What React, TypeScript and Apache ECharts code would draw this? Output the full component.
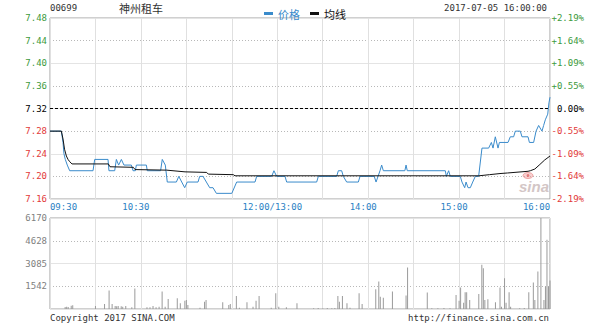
import React, { useEffect, useRef } from 'react';
import * as echarts from 'echarts';

const stockCode = '00699';
const stockName = '神州租车';
const timestamp = '2017-07-05 16:00:00';
const copyrightText = 'Copyright 2017 SINA.COM';
const urlText = 'http://finance.sina.com.cn';
const prevClose = 7.32;

const timeTickMinutes = [0, 60, 150, 210, 270, 330];
const timeTickLabels = ['09:30', '10:30', '12:00/13:00', '14:00', '15:00', '16:00'];

const priceMin = 7.16;
const priceMax = 7.48;
const priceStep = 0.04;

const volMax = 6170;
const volTickLabels = ['', '1542', '3085', '4628', '6170'];

// [minute since 09:30 (trading minutes), price]
const pricePoints: [number, number][] = [
  [0, 7.28], [7.5, 7.28], [8.6, 7.26], [9.2, 7.24], [10.1, 7.23], [11.4, 7.22], [13, 7.21],
  [28.4, 7.21], [29.5, 7.23], [38.3, 7.23], [38.9, 7.21], [42.7, 7.21], [43.8, 7.23], [45.3, 7.22],
  [47.1, 7.23], [48.8, 7.22], [53.7, 7.22], [54.8, 7.21], [56.3, 7.21], [57, 7.22], [63.6, 7.22],
  [64.2, 7.21], [73, 7.21], [74.1, 7.23], [76.1, 7.22], [77.4, 7.19], [83.4, 7.19], [85, 7.2],
  [88.9, 7.18], [90.6, 7.19], [97.7, 7.19], [98.8, 7.2], [101, 7.2], [103.2, 7.19], [105.4, 7.18],
  [107.6, 7.18], [109.8, 7.17], [120, 7.17], [123.2, 7.19], [135.3, 7.19], [136.4, 7.2], [146.3, 7.2],
  [147.8, 7.21], [149.6, 7.2], [155.1, 7.2], [156.2, 7.19], [176, 7.19], [177.1, 7.2], [189.2, 7.2],
  [190.3, 7.21], [192.5, 7.21], [193.6, 7.2], [195.8, 7.19], [203.5, 7.19], [204.6, 7.2], [214, 7.2],
  [215.2, 7.19], [217.8, 7.21], [218.9, 7.22], [220, 7.21], [234.2, 7.21], [235, 7.22], [235.8, 7.21],
  [260.9, 7.21], [261.6, 7.2], [263.1, 7.21], [264.2, 7.2], [270.8, 7.2], [271.9, 7.19], [273.7, 7.18],
  [274.6, 7.19], [275.9, 7.18], [277.4, 7.18], [279, 7.19], [280.7, 7.2], [282.9, 7.2], [285.1, 7.25],
  [289.5, 7.25], [291.3, 7.26], [292.4, 7.25], [293.9, 7.27], [295.7, 7.25], [296.6, 7.26], [302.3, 7.26],
  [303.8, 7.27], [306, 7.27], [307.1, 7.28], [310.4, 7.28], [311.5, 7.27], [315.5, 7.27], [316.4, 7.26],
  [319.2, 7.26], [320.8, 7.28], [322.5, 7.29], [324.7, 7.28], [325.8, 7.29], [326.9, 7.3], [328.5, 7.31],
  [329.3, 7.33], [330, 7.34],
];

const avgPoints: [number, number][] = [
  [0, 7.28], [7.5, 7.28], [8.6, 7.266], [9.6, 7.248], [10.8, 7.236], [11.9, 7.23], [13, 7.226],
  [14.5, 7.222], [38.5, 7.222], [39.6, 7.217], [55, 7.216], [56.1, 7.212], [77, 7.211], [89.1, 7.208],
  [103.4, 7.207], [104.5, 7.204], [121, 7.203], [122.1, 7.201], [283, 7.201], [290, 7.203], [297, 7.205],
  [302, 7.206], [315.5, 7.209], [317, 7.21], [320, 7.213], [323.3, 7.221], [326.5, 7.229], [328, 7.232],
  [330, 7.236],
];

// [minute, volume]
const volumePoints: [number, number][] = [
  [10, 136], [11, 159], [12, 136], [14, 227], [15, 250], [30, 204], [36, 340], [39, 1247], [41, 340],
  [43, 200], [44, 180], [45, 204], [47, 180], [48, 160], [50, 200], [54, 113], [56, 1383], [64, 113],
  [66, 113], [68, 204], [70, 113], [72, 159], [74, 1179], [76, 159], [78, 680], [84, 726], [86, 386],
  [89, 567], [90, 612], [91, 272], [99, 91], [102, 499], [103, 612], [114, 454], [118, 272], [119, 340],
  [123, 885], [125, 91], [130, 454], [134, 159], [136, 567], [138, 885], [146, 91], [149, 1066],
  [151, 159], [156, 113], [163, 386], [174, 45], [177, 60], [180, 45], [183, 60], [186, 45], [188, 60],
  [190, 885], [191, 499], [193, 885], [196, 386], [198, 91], [204, 1066], [206, 340], [215, 1338],
  [217, 1860], [218, 839], [220, 771], [226, 1179], [235, 907], [236, 2812], [249, 1111], [252, 45],
  [256, 45], [260, 60], [264, 45], [268, 952], [270, 567], [271, 1451], [273, 431], [274, 1134],
  [275, 1134], [277, 612], [283, 1020], [285, 2994], [286, 2767], [287, 612], [289, 658], [294, 454],
  [297, 1451], [298, 159], [300, 2086], [301, 431], [303, 1134], [304, 159], [310, 45], [313, 60],
  [316, 1134], [319, 1793], [320, 612], [322, 2540], [324, 6170], [326, 612], [327, 1520], [328, 4694],
  [329, 1520], [330, 1928],
];

const priceColor = '#3a8bcb';
const avgColor = '#111111';
const upColor = '#3d9a3d';
const downColor = '#e23a3a';
const mono = 'DejaVu Sans Mono';
const cjk = 'Noto Sans CJK SC';

function pctText(v: number) {
  const pct = ((v - prevClose) / prevClose) * 100;
  if (Math.abs(pct) < 0.005) return '0.00%';
  return (pct > 0 ? '+' : '') + pct.toFixed(2) + '%';
}
function levelColor(v: number) {
  if (v > prevClose + 1e-6) return upColor;
  if (v < prevClose - 1e-6) return downColor;
  return '#000';
}

export default function App() {
  const ref = useRef<HTMLDivElement>(null);
  useEffect(() => {
    if (!ref.current) return;
    const chart = echarts.init(ref.current, undefined, { renderer: 'svg' });
    const vLine = { show: true, lineStyle: { color: '#e0e0e0', width: 1, type: 'solid' } };
    const xBase = (gridIndex: number) => ({
      type: 'value', gridIndex, min: 0, max: 330, interval: 30,
      axisLine: { show: false }, axisTick: { show: false }, splitLine: vLine,
    });
    const labelBase = { fontFamily: mono, fontSize: 9 };
    const option: any = {
      animation: false,
      legend: {
        left: 259, top: 3, icon: 'rect', itemWidth: 9, itemHeight: 3, itemGap: 10, selectedMode: false,
        textStyle: { fontSize: 11, fontFamily: cjk },
        data: [
          { name: '价格', textStyle: { color: priceColor } },
          { name: '均线', textStyle: { color: avgColor } },
        ],
      },
      grid: [
        { left: 50, top: 18, width: 500, height: 181, show: true, borderColor: '#a0a0a0', borderWidth: 1 },
        { left: 50, top: 218, width: 500, height: 91, show: true, borderColor: '#a0a0a0', borderWidth: 1 },
      ],
      xAxis: [
        {
          ...xBase(0),
          axisLabel: {
            show: true, margin: 3, showMinLabel: true, showMaxLabel: true, ...labelBase, color: '#2a7fc4',
            formatter: (v: number) => {
              const i = timeTickMinutes.indexOf(Math.round(v));
              if (i < 0) return '';
              const s = timeTickLabels[i];
              if (i === 0) return `{first|${s}}`;
              if (i === timeTickLabels.length - 1) return `{last|${s}}`;
              return `{mid|${s}}`;
            },
            rich: {
              first: { ...labelBase, color: '#2a7fc4', padding: [0, 0, 0, 27] },
              mid: { ...labelBase, color: '#2a7fc4', padding: [0, 10, 0, 0] },
              last: { ...labelBase, color: '#2a7fc4', padding: [0, 27, 0, 0] },
            },
          },
        },
        { ...xBase(1), axisLabel: { show: false } },
      ],
      yAxis: [
        {
          type: 'value', gridIndex: 0, position: 'left', min: priceMin, max: priceMax, interval: priceStep,
          axisLine: { show: false }, axisTick: { show: false },
          splitLine: { show: true, lineStyle: { type: 'solid', width: 1, color: ['#e4e4e4', 'rgba(0,0,0,0)'] } },
          axisLabel: {
            ...labelBase, margin: 3, padding: [0, 0, 4, 0],
            formatter: (v: number) => v.toFixed(2),
            color: (v: any) => levelColor(parseFloat(v)),
          },
        },
        {
          type: 'value', gridIndex: 0, position: 'right', min: priceMin, max: priceMax, interval: priceStep,
          axisLine: { show: false }, axisTick: { show: false },
          splitLine: { show: true, lineStyle: { type: [1, 2], width: 1, color: ['rgba(0,0,0,0)', '#b8b8b8'] } },
          axisLabel: {
            ...labelBase, margin: 34, align: 'right', padding: [0, 0, 4, 0],
            formatter: (v: number) => pctText(v),
            color: (v: any) => levelColor(parseFloat(v)),
          },
        },
        {
          type: 'value', gridIndex: 1, position: 'left', min: 0, max: volMax, interval: volMax / 4,
          axisLine: { show: false }, axisTick: { show: false },
          splitLine: { show: true, lineStyle: { type: 'solid', width: 1, color: ['#e4e4e4', 'rgba(0,0,0,0)'] } },
          axisLabel: {
            ...labelBase, margin: 3, padding: [0, 0, 4, 0], color: '#808080',
            formatter: (_v: number, i: number) => volTickLabels[i] ?? '',
          },
        },
        {
          type: 'value', gridIndex: 1, position: 'right', min: 0, max: volMax, interval: volMax / 4,
          axisLine: { show: false }, axisTick: { show: false }, axisLabel: { show: false },
          splitLine: { show: true, lineStyle: { type: [1, 2], width: 1, color: ['rgba(0,0,0,0)', '#b8b8b8'] } },
        },
      ],
      series: [
        {
          name: '价格', type: 'line', xAxisIndex: 0, yAxisIndex: 0, data: pricePoints,
          symbol: 'none', showSymbol: false, lineStyle: { color: priceColor, width: 1 },
          itemStyle: { color: priceColor }, z: 3,
          markLine: {
            silent: true, symbol: ['none', 'none'], label: { show: false },
            lineStyle: { color: '#000', type: [3, 2], width: 1 },
            data: [{ yAxis: prevClose }],
          },
        },
        {
          name: '均线', type: 'line', xAxisIndex: 0, yAxisIndex: 0, data: avgPoints,
          symbol: 'none', showSymbol: false, lineStyle: { color: avgColor, width: 1 },
          itemStyle: { color: avgColor }, z: 4,
        },
        {
          name: '成交量', type: 'bar', xAxisIndex: 1, yAxisIndex: 2, data: volumePoints,
          barWidth: 1, itemStyle: { color: '#9a9a9a' },
        },
      ],
      graphic: [
        { type: 'text', x: 50, y: 8, style: { text: stockCode, font: `9px "${mono}"`, fill: '#333', textAlign: 'left', align: 'left', textVerticalAlign: 'middle', verticalAlign: 'middle' } },
        { type: 'text', x: 119, y: 8, style: { text: stockName, font: `11px "${cjk}"`, fill: '#333', textAlign: 'left', align: 'left', textVerticalAlign: 'middle', verticalAlign: 'middle' } },
        { type: 'text', x: 547, y: 8, style: { text: timestamp, font: `9px "${mono}"`, fill: '#333', textAlign: 'right', align: 'right', textVerticalAlign: 'middle', verticalAlign: 'middle' } },
        { type: 'text', x: 50, y: 318, style: { text: copyrightText, font: `9px "${mono}"`, fill: '#333', textAlign: 'left', align: 'left', textVerticalAlign: 'middle', verticalAlign: 'middle' } },
        { type: 'text', x: 549, y: 318, style: { text: urlText, font: `9px "${mono}"`, fill: '#333', textAlign: 'right', align: 'right', textVerticalAlign: 'middle', verticalAlign: 'middle' } },
        { type: 'ellipse', shape: { cx: 528, cy: 175.5, rx: 5, ry: 3 }, style: { fill: 'rgba(240,150,150,0.45)', stroke: 'rgba(230,120,120,0.6)', lineWidth: 1 }, z: 1 },
        { type: 'circle', shape: { cx: 528, cy: 175.5, r: 1.4 }, style: { fill: 'rgba(220,90,90,0.7)' }, z: 1 },
        { type: 'text', x: 534, y: 186, style: { text: 'sina', font: 'italic bold 15px "Liberation Sans"', fill: '#d3c6c6', textAlign: 'center', align: 'center', textVerticalAlign: 'middle', verticalAlign: 'middle' }, z: 1 },
      ],
    };
    chart.setOption(option);
    return () => chart.dispose();
  }, []);
  return <div ref={ref} style={{ position: 'absolute', left: 0, top: 0, width: 600, height: 327 }} />;
}
